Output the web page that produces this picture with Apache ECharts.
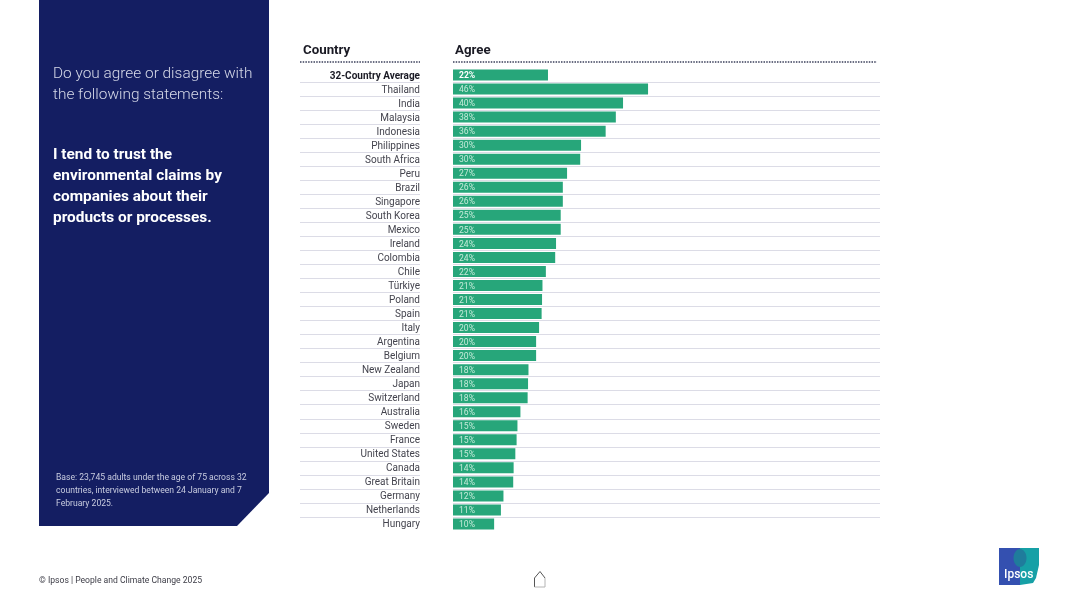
<!DOCTYPE html>
<html>
<head>
<meta charset="utf-8">
<style>
html, body { margin: 0; padding: 0; background: #fff; }
#chart { width: 1080px; height: 607px; }
</style>
<script src="https://cdn.jsdelivr.net/npm/echarts@6/dist/echarts.min.js"></script>
</head>
<body>
<div id="chart"></div>
<script>
// data
var countries = ['32-Country Average', 'Thailand', 'India', 'Malaysia', 'Indonesia', 'Philippines', 'South Africa', 'Peru', 'Brazil', 'Singapore', 'South Korea', 'Mexico', 'Ireland', 'Colombia', 'Chile', 'Türkiye', 'Poland', 'Spain', 'Italy', 'Argentina', 'Belgium', 'New Zealand', 'Japan', 'Switzerland', 'Australia', 'Sweden', 'France', 'United States', 'Canada', 'Great Britain', 'Germany', 'Netherlands', 'Hungary'];
var agree = [22.4, 46, 40.1, 38.4, 36, 30.2, 30, 26.9, 25.9, 25.9, 25.4, 25.4, 24.3, 24.1, 21.9, 21.1, 21, 20.9, 20.3, 19.6, 19.6, 17.8, 17.7, 17.6, 15.9, 15.2, 15, 14.7, 14.3, 14.2, 11.9, 11.3, 9.7];
var colHeads = ['Country', 'Agree'];
var questionLines = ['Do you agree or disagree with', 'the following statements:'];
var statementLines = ['I tend to trust the', 'environmental claims by', 'companies about their', 'products or processes.'];
var baseLines = ['Base: 23,745 adults under the age of 75 across 32', 'countries, interviewed between 24 January and 7', 'February 2025.'];
var footer = '© Ipsos | People and Climate Change 2025';

var font = 'Roboto';
var navy = '#141e62';
var green = '#27a67a';
var sepColor = '#dcdce6';

function textEl(x, y, str, size, color, weight) {
	return {
		type: 'text',
		x: x,
		y: y,
		style: { text: str, font: (weight || 400) + ' ' + size + 'px ' + font, fill: color, textVerticalAlign: 'middle' }
	};
}

function dotted(x1, x2, y) {
	return {
		type: 'line',
		shape: { x1: x1, y1: y, x2: x2, y2: y },
		style: { stroke: '#3a3f5a', lineWidth: 1.5, lineDash: [1.5, 1.2] }
	};
}

var graphics = [{
	type: 'polygon',
	z: -1,
	shape: { points: [[39, 0], [269, 0], [269, 493], [237, 526], [39, 526]] },
	style: { fill: navy }
}];

questionLines.forEach(function (s, i) {
	graphics.push(textEl(53, 74 + i * 21, s, 15.4, '#d6d9e8', 300));
});
statementLines.forEach(function (s, i) {
	graphics.push(textEl(53, 155 + i * 21.2, s, 15.4, '#ffffff', 700));
});
baseLines.forEach(function (s, i) {
	graphics.push(textEl(56, 477.5 + i * 13, s, 8.6, '#c9cde0', 400));
});
graphics.push(textEl(39, 581, footer, 8.6, '#3c3c46', 400));

//column headers
graphics.push(textEl(303, 50.5, colHeads[0], 13.3, '#1a1a24', 700));
graphics.push(textEl(455, 50.5, colHeads[1], 13.3, '#1a1a24', 700));
graphics.push(dotted(300, 420, 62));
graphics.push(dotted(453, 877, 62));

//home icon
graphics.push({
	type: 'polyline',
	shape: { points: [[534.5, 587], [534.5, 578], [540, 571.5], [545, 578]] },
	style: { stroke: '#555555', lineWidth: 1, fill: 'none' }
});
graphics.push({
	type: 'polyline',
	shape: { points: [[545, 578], [545, 587], [534.5, 587]] },
	style: { stroke: '#b4b4b4', lineWidth: 1, fill: 'none' }
});

//logo
graphics.push({
	type: 'polygon',
	shape: { points: [[999, 548], [1020, 548], [1020, 585], [999, 585]] },
	style: { fill: '#3450b0' }
});
graphics.push({
	type: 'polygon',
	shape: { points: [[1020, 548], [1039, 548], [1039, 565], [1036, 578], [1033, 583], [1020, 585]] },
	style: { fill: '#16a0a6' }
});
graphics.push({
	type: 'ellipse',
	shape: { cx: 1020, cy: 558, rx: 6.5, ry: 9 },
	style: { fill: '#1f7c9c' }
});
graphics.push(textEl(1004, 575, 'Ipsos', 12, '#ffffff', 500));

var chart = echarts.init(document.getElementById('chart'), null, { renderer: 'canvas' });
chart.setOption({
	animation: false,
	backgroundColor: '#ffffff',
	grid: [
		{ left: 300, top: 68, width: 120, height: 463, containLabel: false },
		{ left: 453, top: 68, width: 427, height: 463, containLabel: false }
	],
	xAxis: [
		{ gridIndex: 0, type: 'value', min: 0, max: 100, show: false },
		{ gridIndex: 1, type: 'value', min: 0, max: 100.7, show: false }
	],
	yAxis: [{
		gridIndex: 0,
		type: 'category',
		inverse: true,
		data: countries,
		position: 'right',
		axisLine: { show: false },
		axisTick: { show: false },
		axisLabel: {
			show: true,
			inside: true,
			interval: 0,
			margin: 0,
			padding: [2, 0, 0, 0],
			fontFamily: font,
			fontSize: 10,
			color: '#44444e',
			formatter: function (v, i) { return i === 0 ? '{b|' + v + '}' : v; },
			rich: { b: { fontFamily: font, fontSize: 10, fontWeight: 700, color: '#1a1a24' } }
		},
		splitLine: { show: true, interval: 0, showMinLine: false, showMaxLine: false, lineStyle: { color: sepColor, width: 1 } }
	}, {
		gridIndex: 1,
		type: 'category',
		inverse: true,
		data: countries,
		axisLine: { show: false },
		axisTick: { show: false },
		axisLabel: { show: false, interval: 0 },
		splitLine: { show: true, interval: 0, showMinLine: false, showMaxLine: false, lineStyle: { color: sepColor, width: 1 } }
	}],
	series: [{
		type: 'bar',
		xAxisIndex: 1,
		yAxisIndex: 1,
		data: agree.map(function (v, i) {
			return {
				value: v,
				label: i === 0 ? { color: '#ffffff', fontWeight: 700 } : {}
			};
		}),
		barWidth: 11,
		itemStyle: { color: green },
		label: {
			show: true,
			position: 'insideLeft',
			distance: 6,
			offset: [0, 1],
			fontFamily: font,
			fontSize: 8.6,
			color: '#c4ead9',
			formatter: function (p) { return Math.round(p.value) + '%'; }
		}
	}],
	graphic: graphics
});
</script>
</body>
</html>
